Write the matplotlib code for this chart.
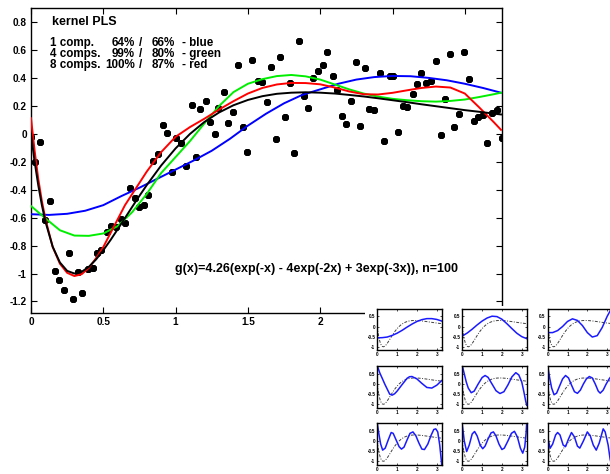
import matplotlib
matplotlib.use('Agg')
import matplotlib.pyplot as plt
from matplotlib.patches import Rectangle

plt.rcParams['font.family'] = ['Liberation Sans', 'DejaVu Sans']
plt.rcParams['font.weight'] = 'bold'

# ---------------- data ----------------
pts_x = [0.000, 0.064, 0.030, 0.129, 0.095, 0.260, 0.164, 0.196, 0.228, 0.293,
         0.355, 0.325, 0.394, 0.430, 0.459, 0.486, 0.523, 0.555, 0.590, 0.620,
         0.652, 0.682, 0.720, 0.750, 0.780, 0.810, 0.845, 0.878, 0.910, 0.943,
         0.975, 1.005, 1.040, 1.074, 1.110, 1.140, 1.170, 1.210, 1.235, 1.270,
         1.335, 1.362, 1.295, 1.400, 1.434, 1.464, 1.496, 1.530, 1.567, 1.600,
         1.630, 1.660, 1.692, 1.720, 1.757, 1.790, 1.821, 1.855, 1.888, 1.918,
         1.950, 1.987, 2.017, 2.050, 2.087, 2.114, 2.149, 2.178, 2.213, 2.245,
         2.277, 2.312, 2.340, 2.372, 2.410, 2.440, 2.483, 2.506, 2.540, 2.570,
         2.600, 2.640, 2.667, 2.700, 2.732, 2.764, 2.800, 2.833, 2.863, 2.898,
         2.927, 2.962, 2.994, 3.029, 3.060, 3.094, 3.124, 3.156, 3.190, 3.220,
         3.255]
pts_y = [-0.020, -0.055, -0.200, -0.480, -0.620, -0.850, -0.980, -1.050, -1.120, -1.185,
         -1.140, -0.990, -0.970, -0.960, -0.850, -0.830, -0.700, -0.660, -0.665, -0.610,
         -0.640, -0.385, -0.460, -0.520, -0.510, -0.440, -0.190, -0.140, 0.065, 0.010,
         -0.270, -0.030, -0.067, -0.230, 0.210, -0.167, 0.177, 0.240, 0.088, -0.002,
         0.300, 0.080, 0.184, 0.160, 0.495, 0.048, -0.127, 0.530, 0.378, 0.373,
         0.232, 0.478, -0.038, 0.555, 0.120, 0.363, -0.139, 0.670, 0.272, 0.184,
         0.400, 0.454, 0.495, 0.585, 0.418, 0.315, 0.130, 0.074, 0.239, 0.516,
         0.057, 0.470, 0.177, 0.172, 0.440, -0.050, 0.418, 0.418, 0.017, 0.200,
         0.190, 0.290, 0.356, 0.435, 0.368, 0.382, 0.525, -0.007, 0.253, 0.573,
         0.052, 0.141, 0.588, 0.392, 0.095, 0.120, 0.136, -0.062, 0.148, 0.172,
         -0.026]

true_x = [0, 0.025, 0.05, 0.075, 0.1, 0.15, 0.2, 0.25, 0.3, 0.35, 0.4, 0.45, 0.5,
          0.55, 0.6, 0.65, 0.7, 0.75, 0.8, 0.9, 1.0, 1.1, 1.2, 1.3, 1.4, 1.5, 1.6,
          1.7, 1.8, 1.9, 2.0, 2.1, 2.2, 2.3, 2.4, 2.5, 2.6, 2.7, 2.8, 2.9, 3.0, 3.1,
          3.2, 3.25]
true_y = [0.0, -0.198, -0.366, -0.509, -0.629, -0.808, -0.921, -0.981, -1.000, -0.988,
          -0.952, -0.899, -0.833, -0.760, -0.682, -0.602, -0.522, -0.443, -0.367,
          -0.226, -0.103, 0.001, 0.087, 0.154, 0.206, 0.244, 0.271, 0.288, 0.296,
          0.299, 0.296, 0.290, 0.280, 0.269, 0.256, 0.242, 0.228, 0.213, 0.199,
          0.185, 0.171, 0.159, 0.146, 0.140]

blue_x = [0, 0.125, 0.25, 0.375, 0.5, 0.625, 0.75, 0.875, 1.0, 1.125, 1.25, 1.375,
          1.5, 1.625, 1.75, 1.875, 2.0, 2.125, 2.25, 2.375, 2.5, 2.625, 2.75, 2.875,
          3.0, 3.125, 3.25]
blue_y = [-0.575, -0.58, -0.572, -0.55, -0.51, -0.445, -0.385, -0.32, -0.255, -0.19,
          -0.12, -0.035, 0.06, 0.145, 0.22, 0.28, 0.32, 0.36, 0.39, 0.408, 0.416,
          0.414, 0.402, 0.385, 0.36, 0.33, 0.296]

green_x = [0, 0.1, 0.2, 0.3, 0.4, 0.5, 0.6, 0.7, 0.8, 0.9, 1.0, 1.1, 1.2, 1.3, 1.4,
           1.5, 1.6, 1.7, 1.8, 1.9, 2.0, 2.1, 2.2, 2.3, 2.4, 2.5, 2.6, 2.7, 2.8, 2.9,
           3.0, 3.1, 3.2, 3.25]
green_y = [-0.516, -0.605, -0.69, -0.728, -0.73, -0.713, -0.66, -0.56, -0.43, -0.28,
           -0.165, -0.05, 0.077, 0.2, 0.30, 0.36, 0.393, 0.415, 0.423, 0.413, 0.39,
           0.355, 0.32, 0.29, 0.268, 0.252, 0.242, 0.235, 0.232, 0.237, 0.247, 0.265,
           0.285, 0.296]

red_x = [0, 0.025, 0.05, 0.075, 0.1, 0.15, 0.2, 0.25, 0.3, 0.35, 0.4, 0.45, 0.5, 0.55,
         0.6, 0.65, 0.7, 0.75, 0.8, 0.9, 1.0, 1.1, 1.2, 1.3, 1.4, 1.5, 1.6, 1.7, 1.8,
         1.9, 2.0, 2.1, 2.2, 2.3, 2.4, 2.5, 2.6, 2.7, 2.8, 2.9, 3.0, 3.1, 3.2, 3.25]
red_y = [0.113, -0.12, -0.32, -0.48, -0.61, -0.81, -0.93, -0.995, -1.018, -1.005,
         -0.96, -0.89, -0.81, -0.71, -0.61, -0.51, -0.43, -0.35, -0.27, -0.13, -0.02,
         0.05, 0.11, 0.175, 0.235, 0.29, 0.33, 0.355, 0.366, 0.365, 0.356, 0.333,
         0.305, 0.285, 0.283, 0.295, 0.313, 0.33, 0.34, 0.333, 0.29, 0.19, 0.085, 0.03]

xticks = [0, 0.5, 1, 1.5, 2, 2.5, 3]
xtick_labels = ['0', '0.5', '1', '1.5', '2', '2.5', '3']
yticks = [-1.2, -1.0, -0.8, -0.6, -0.4, -0.2, 0, 0.2, 0.4, 0.6, 0.8]
ytick_labels = ['-1.2', '-1', '-0.8', '-0.6', '-0.4', '-0.2', '0', '0.2', '0.4', '0.6', '0.8']

legend_names = ['1 comp.', '4 comps.', '8 comps.']
legend_pct1 = ['64%', '99%', '100%']
legend_pct2 = ['66%', '80%', '87%']
legend_cols = ['- blue', '- green', '- red']

# inset component curves
c1_x = [0, 0.25, 0.5, 0.75, 1.0, 1.25, 1.5, 1.75, 2.0, 2.25, 2.5, 2.75, 3.0, 3.25]
c1_y = [-0.56, -0.55, -0.52, -0.44, -0.33, -0.19, -0.03, 0.12, 0.25, 0.34, 0.39, 0.39, 0.35, 0.27]
c2_x = [0, 0.25, 0.5, 0.75, 1.0, 1.25, 1.5, 1.75, 2.0, 2.25, 2.5, 2.75, 3.0, 3.25]
c2_y = [-0.47, -0.32, -0.13, 0.08, 0.27, 0.42, 0.51, 0.49, 0.36, 0.14, -0.1, -0.33, -0.5, -0.6]
c3_x = [0, 0.25, 0.5, 0.75, 1.0, 1.25, 1.5, 1.75, 2.0, 2.25, 2.5, 2.75, 3.0, 3.25]
c3_y = [-0.30, -0.30, -0.2, 0.0, 0.25, 0.38, 0.3, 0.05, -0.3, -0.52, -0.45, -0.05, 0.5, 0.95]
c4_x = [0, 0.125, 0.25, 0.375, 0.5, 0.625, 0.75, 0.875, 1.0, 1.25, 1.5, 1.625, 1.75,
        2.0, 2.25, 2.5, 2.75, 3.0, 3.25]
c4_y = [0.9, 0.55, 0.28, 0.0, -0.25, -0.5, -0.55, -0.48, -0.35, -0.03, 0.28, 0.36, 0.37,
        0.25, 0.03, -0.17, -0.2, -0.06, 0.17]
c5_x = [0, 0.1, 0.2, 0.3, 0.45, 0.6, 0.8, 1.0, 1.15, 1.3, 1.5, 1.7, 1.9, 2.1, 2.3, 2.5,
        2.7, 2.85, 3.0, 3.1, 3.2, 3.25]
c5_y = [0.9, 0.5, 0.1, -0.2, -0.43, -0.35, 0.0, 0.32, 0.42, 0.33, 0.0, -0.33, -0.47,
        -0.38, -0.05, 0.35, 0.56, 0.45, 0.1, -0.35, -0.85, -1.05]
c6_x = [0, 0.1, 0.2, 0.32, 0.45, 0.6, 0.75, 0.9, 1.05, 1.2, 1.35, 1.5, 1.65, 1.8, 1.95,
        2.1, 2.25, 2.4, 2.55, 2.65, 2.8, 2.95, 3.1, 3.25]
c6_y = [0.9, 0.3, -0.2, -0.53, -0.45, -0.1, 0.25, 0.42, 0.3, -0.05, -0.38, -0.46, -0.3,
        0.0, 0.25, 0.37, 0.3, 0.0, -0.35, -0.45, -0.3, 0.0, 0.25, 0.45]
c7_x = [0, 0.08, 0.17, 0.27, 0.4, 0.55, 0.7, 0.8, 0.95, 1.1, 1.22, 1.35, 1.5, 1.65, 1.8,
        1.95, 2.1, 2.25, 2.38, 2.55, 2.7, 2.85, 2.95, 3.05, 3.15, 3.25]
c7_y = [0.87, 0.35, -0.15, -0.45, -0.35, 0.05, 0.42, 0.38, 0.05, -0.28, -0.4, -0.3, 0.05,
        0.38, 0.45, 0.25, -0.1, -0.4, -0.42, -0.15, 0.25, 0.57, 0.6, 0.45, -0.2, -1.15]
c8_x = [0, 0.1, 0.22, 0.35, 0.5, 0.62, 0.75, 0.9, 1.03, 1.15, 1.3, 1.45, 1.57, 1.7, 1.85,
        2.0, 2.12, 2.3, 2.48, 2.63, 2.78, 2.93, 3.05, 3.15, 3.22, 3.25]
c8_y = [0.8, 0.0, -0.52, -0.2, 0.35, 0.47, 0.25, -0.2, -0.38, -0.25, 0.1, 0.4, 0.45, 0.25,
        -0.15, -0.42, -0.35, 0.0, 0.38, 0.48, 0.2, -0.35, -0.6, -0.3, 0.4, 0.9]
c9_x = [0, 0.12, 0.25, 0.4, 0.5, 0.62, 0.78, 0.9, 1.05, 1.2, 1.35, 1.5, 1.62, 1.8, 2.0,
        2.15, 2.3, 2.45, 2.6, 2.8, 2.9, 3.05, 3.15, 3.25]
c9_y = [0.2, -0.36, -0.15, 0.3, 0.42, 0.3, -0.2, -0.28, 0.1, 0.42, 0.2, -0.25, -0.35, 0.0,
        0.45, 0.25, -0.2, -0.45, -0.1, 0.6, 0.45, -0.2, -0.9, -1.3]
comp_x = [c1_x, c2_x, c3_x, c4_x, c5_x, c6_x, c7_x, c8_x, c9_x]
comp_y = [c1_y, c2_y, c3_y, c4_y, c5_y, c6_y, c7_y, c8_y, c9_y]
inset_xticks = [0, 1, 2, 3]
inset_yticks = [-1, -0.5, 0, 0.5]
inset_ytick_labels = ['-1', '-0.5', '0', '0.5']

# ---------------- figure ----------------
W, H = 610, 474
fig = plt.figure(figsize=(6.1, 4.74), dpi=100)


def fx(px):
    return px / W


def fy(py):
    return 1 - py / H


ax = fig.add_axes([fx(31), fy(313), fx(502) - fx(31), fy(8) - fy(313)])
ax.set_zorder(0)
ax.plot(pts_x, pts_y, ls='none', marker=(8, 2, 0), ms=5, mew=1.5, color='black', zorder=3)
ax.plot(blue_x, blue_y, color='#0000ff', lw=1.4, zorder=4)
ax.plot(green_x, green_y, color='#00ee00', lw=1.4, zorder=4)
ax.plot(red_x, red_y, color='#ff0000', lw=1.4, zorder=4)
ax.plot(true_x, true_y, color='black', lw=1.4, zorder=5)
ax.set_xlim(0, 3.257)
ax.set_ylim(-1.283, 0.903)
ax.set_xticks(xticks)
ax.set_xticklabels(xtick_labels)
ax.set_yticks(yticks)
ax.set_yticklabels(ytick_labels)
ax.tick_params(direction='in', length=4, width=0.8, top=True, right=True,
               labelsize=7.2, pad=3)
for s in ax.spines.values():
    s.set_linewidth(1.0)

fig.text(fx(52), fy(22), 'kernel PLS', fontsize=9, fontweight='bold', ha='left', va='center')
row_y = [42.7, 54.0, 65.3]
for i in range(3):
    yy = fy(row_y[i])
    fig.text(fx(50), yy, legend_names[i], fontsize=8.4, fontweight='bold', ha='left', va='center')
    fig.text(fx(135), yy, legend_pct1[i], fontsize=8.4, fontweight='bold', ha='right', va='center')
    fig.text(fx(141), yy, '/', fontsize=8.4, fontweight='bold', ha='center', va='center')
    fig.text(fx(152), yy, legend_pct2[i], fontsize=8.4, fontweight='bold', ha='left', va='center')
    fig.text(fx(182), yy, legend_cols[i], fontsize=8.4, fontweight='bold', ha='left', va='center')

fig.text(fx(175), fy(269), 'g(x)=4.26(exp(-x) - 4exp(-2x) + 3exp(-3x)), n=100',
         fontsize=9, fontweight='bold', ha='left', va='center')

# white panel under the insets
fig.add_artist(Rectangle((fx(365), 0), 1 - fx(365), fy(306), transform=fig.transFigure,
                         facecolor='white', edgecolor='none', zorder=1))

col_left = [377.3, 462.3, 547.7]
row_top = [308.5, 366.0, 423.0]
iw, ih = 65.0, 41.5
k = 0
for r in range(3):
    for c in range(3):
        a = fig.add_axes([fx(col_left[c]), fy(row_top[r] + ih), iw / W, ih / H])
        a.set_zorder(2)
        a.plot(true_x, true_y, color='0.25', lw=0.7, ls=(0, (3, 1.5, 1, 1.5)))
        a.plot(comp_x[k], comp_y[k], color='#1a1aff', lw=1.1)
        a.set_xlim(0, 3.28)
        a.set_ylim(-1.16, 0.89)
        a.set_xticks(inset_xticks)
        a.set_yticks(inset_yticks)
        a.set_yticklabels(inset_ytick_labels)
        a.tick_params(direction='in', length=1.5, width=0.5, top=True, right=True,
                      labelsize=3.3, pad=1.5)
        for s in a.spines.values():
            s.set_linewidth(1.0)
        k += 1

fig.savefig('out.png', dpi=100)
